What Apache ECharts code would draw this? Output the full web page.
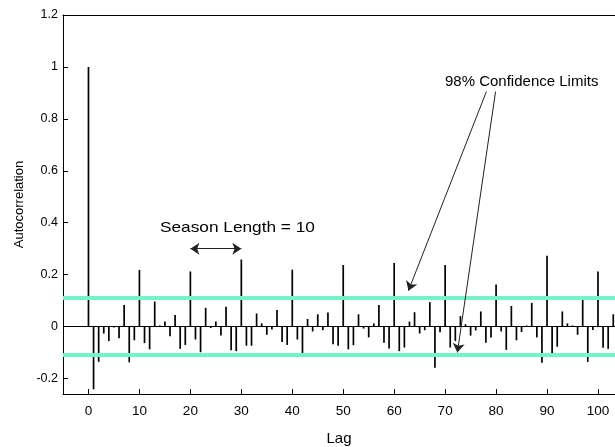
<!DOCTYPE html>
<html>
<head>
<meta charset="utf-8">
<script src="https://cdn.jsdelivr.net/npm/echarts@6/dist/echarts.min.js"></script>
<style>html,body{margin:0;padding:0;background:#fff}#c{width:615px;height:447px}</style>
</head>
<body>
<div id="c"></div>
<script>
// Sample autocorrelation at lags 0..103
const acf = [
  1.000, -0.242, -0.136, -0.027, -0.056, -0.004, -0.045, 0.083, -0.138, -0.053,
  0.218, -0.064, -0.088, 0.096, 0.004, 0.019, -0.038, 0.044, -0.086, -0.071,
  0.212, -0.050, -0.099, 0.072, -0.006, 0.019, -0.035, 0.076, -0.091, -0.095,
  0.258, -0.074, -0.074, 0.050, 0.012, -0.032, -0.012, 0.064, -0.060, -0.071,
  0.219, -0.050, -0.104, 0.029, -0.019, 0.047, -0.014, 0.054, -0.068, -0.074,
  0.237, -0.088, -0.072, 0.047, -0.008, -0.042, 0.012, 0.083, -0.063, -0.085,
  0.245, -0.095, -0.081, 0.019, 0.055, -0.027, -0.014, 0.094, -0.159, -0.022,
  0.237, -0.081, -0.056, 0.040, 0.009, -0.035, -0.015, 0.058, -0.063, -0.042,
  0.162, -0.019, -0.090, 0.079, -0.053, -0.021, 0.004, 0.091, -0.042, -0.140,
  0.273, -0.103, -0.078, 0.058, 0.012, 0.004, -0.032, 0.109, -0.136, -0.013,
  0.212, -0.082, -0.086, 0.047
];
const confLimits = [0.112, -0.112];
const xTicks = [0, 10, 20, 30, 40, 50, 60, 70, 80, 90, 100];
const yTicks = [-0.2, 0, 0.2, 0.4, 0.6, 0.8, 1, 1.2];
const seasonArrow = [[20, 0.30], [30, 0.30]];
const confArrowUpper = [[78.1, 0.905], [62.8, 0.138]];
const confArrowLower = [[79.9, 0.905], [72.4, -0.100]];
const seasonText = 'Season Length = 10';
const confText = '98% Confidence Limits';

const font = 'Liberation Sans';
const chart = echarts.init(document.getElementById('c'), null, {renderer: 'canvas'});
const barData = acf.map((v, i) => [i, v]);

chart.setOption({
  animation: false,
  backgroundColor: '#fff',
  grid: {left: 63, top: 15, right: 0, height: 379, containLabel: false, outerBoundsMode: 'none'},
  xAxis: [{
    type: 'value', min: -5, max: 103.34,
    name: 'Lag', nameLocation: 'middle', nameGap: 37,
    nameTextStyle: {fontFamily: font, fontSize: 15, color: '#000'},
    axisLine: {show: true, onZero: false, lineStyle: {color: '#000', width: 1}},
    axisTick: {show: true, inside: true, length: 5, customValues: xTicks, lineStyle: {color: '#000'}},
    axisLabel: {customValues: xTicks, fontFamily: font, fontSize: 13.5, color: '#000', margin: 10},
    splitLine: {show: false}
  }, {
    type: 'value', position: 'top', min: -5, max: 103.34,
    axisLine: {show: true, onZero: false, lineStyle: {color: '#000', width: 1}},
    axisTick: {show: false}, axisLabel: {show: false}, splitLine: {show: false}
  }],
  yAxis: {
    type: 'value', min: -0.26, max: 1.2,
    name: 'Autocorrelation', nameLocation: 'middle', nameGap: 36, nameRotate: 90,
    nameTextStyle: {fontFamily: font, fontSize: 13, color: '#000'},
    axisLine: {show: true, onZero: false, lineStyle: {color: '#000', width: 1}},
    axisTick: {show: true, inside: true, length: 5, customValues: yTicks, lineStyle: {color: '#000'}},
    axisLabel: {customValues: yTicks, fontFamily: font, fontSize: 12.5, color: '#000', margin: 5,
      formatter: v => String(Math.round(v * 10) / 10)},
    splitLine: {show: false}
  },
  series: [
    {
      type: 'scatter', data: [], z: 1, silent: true,
      markLine: {
        silent: true, symbol: ['none', 'none'], label: {show: false},
        lineStyle: {color: '#74f4c4', width: 4, type: 'solid'},
        data: confLimits.map(c => ({yAxis: c}))
      }
    },
    {
      type: 'bar', data: barData, barWidth: 1.7, z: 3,
      itemStyle: {color: '#000'},
      markLine: {
        silent: true, symbol: ['none', 'none'], label: {show: false},
        lineStyle: {color: '#000', width: 1, type: 'solid'},
        data: [{yAxis: 0}]
      }
    },
    {
      type: 'scatter', data: [], z: 4, silent: true,
      markLine: {
        silent: true, label: {show: false}, symbolSize: 9,
        lineStyle: {color: '#222', width: 1, type: 'solid'},
        data: [
          [{coord: seasonArrow[0], symbol: 'arrow'}, {coord: seasonArrow[1], symbol: 'arrow'}],
          [{coord: confArrowUpper[0], symbol: 'none'}, {coord: confArrowUpper[1], symbol: 'arrow'}],
          [{coord: confArrowLower[0], symbol: 'none'}, {coord: confArrowLower[1], symbol: 'arrow'}]
        ]
      }
    }
  ],
  graphic: [
    {type: 'text', x: 160, y: 220, scaleX: 1.15, style: {text: seasonText, font: '15px "Liberation Sans"', fill: '#000'}},
    {type: 'text', x: 445, y: 74, style: {text: confText, font: '15px "Liberation Sans"', fill: '#000'}}
  ]
});
</script>
</body>
</html>
